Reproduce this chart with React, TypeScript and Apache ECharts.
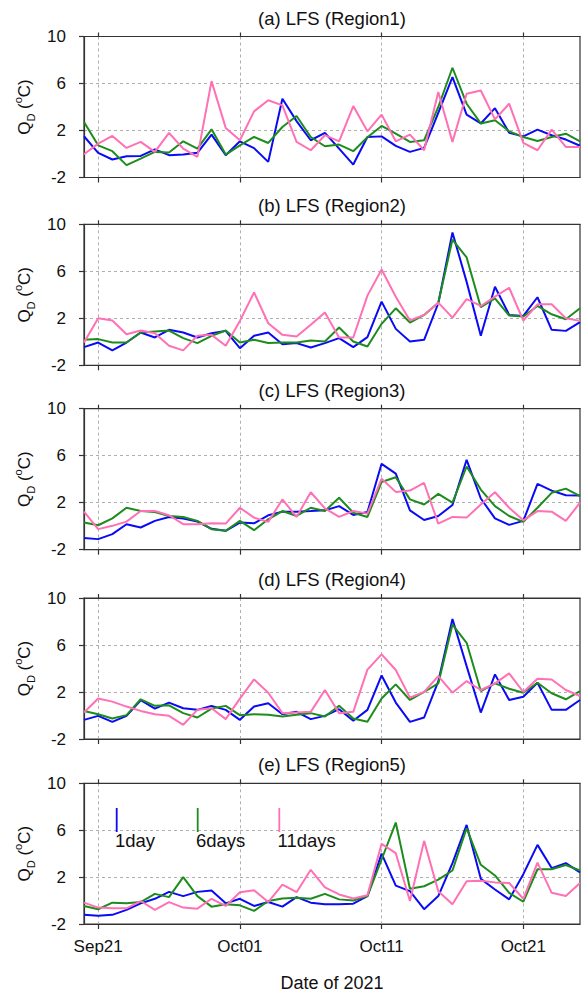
import React, { useEffect, useRef } from "react";
import * as echarts from "echarts";

const dates = [
  "Sep20", "Sep21", "Sep22", "Sep23", "Sep24", "Sep25", "Sep26", "Sep27", "Sep28", "Sep29", "Sep30",
  "Oct01", "Oct02", "Oct03", "Oct04", "Oct05", "Oct06", "Oct07", "Oct08", "Oct09", "Oct10",
  "Oct11", "Oct12", "Oct13", "Oct14", "Oct15", "Oct16", "Oct17", "Oct18", "Oct19", "Oct20",
  "Oct21", "Oct22", "Oct23", "Oct24", "Oct25",
];

const panelTitles = [
  "(a) LFS (Region1)",
  "(b) LFS (Region2)",
  "(c) LFS (Region3)",
  "(d) LFS (Region4)",
  "(e) LFS (Region5)",
];

const seriesNames = ["1day", "6days", "11days"];
const yTicks = [-2, 2, 6, 10];

const r1Day1 = [1.51, 0.1, -0.47, -0.19, -0.16, 0.4, -0.1, -0.05, 0.1, 1.65, -0.1, 1.08, 0.5, -0.67, 4.7, 2.8, 1.17, 1.8, 0.46, -0.9, 1.45, 1.5, 0.69, 0.18, 0.52, 3.5, 6.55, 3.35, 2.6, 3.9, 1.8, 1.5, 2.07, 1.6, 1.23, 0.7];
const r1Day6 = [2.73, 0.74, 0.24, -0.95, -0.39, 0.18, 0.12, 1.08, 0.46, 2.1, -0.05, 0.74, 1.45, 0.94, 2.3, 3.23, 1.45, 0.66, 0.8, 0.24, 1.42, 2.39, 1.73, 1.03, 1.17, 4.0, 7.34, 4.28, 2.6, 2.87, 1.93, 1.45, 1.1, 1.45, 1.73, 1.08];
const r1Day11 = [-0.02, 0.88, 1.54, 0.52, 1.03, 0.18, 1.79, 0.46, -0.25, 6.2, 2.22, 1.17, 3.63, 4.57, 4.14, 1.03, 0.32, 1.6, 1.08, 4.08, 1.93, 3.35, 1.08, 1.65, 0.32, 5.27, 1.03, 5.13, 5.4, 2.95, 4.28, 0.94, 0.32, 2.07, 0.6, 0.6];

const r2Day1 = [-0.45, -0.06, -0.73, -0.06, 0.79, 0.37, 1.02, 0.79, 0.37, 0.73, 0.93, -0.54, 0.51, 0.79, -0.2, -0.11, -0.48, -0.11, 0.31, -0.45, 0.4, 3.42, 1.1, 0.03, 0.17, 3.28, 9.3, 5.1, 0.51, 4.69, 2.29, 2.2, 3.79, 1.02, 0.93, 1.67];
const r2Day6 = [0.17, 0.23, -0.06, -0.06, 0.79, 0.88, 0.96, 0.31, -0.11, 0.51, 0.96, -0.06, 0.17, -0.11, -0.06, -0.06, 0.11, 0.03, 1.21, 0.03, -0.4, 1.53, 2.85, 1.64, 2.29, 3.33, 8.7, 7.18, 2.94, 3.7, 2.23, 2.15, 3.05, 2.34, 1.92, 2.85];
const r2Day11 = [-0.06, 2.0, 1.81, 0.65, 0.96, 0.73, -0.34, -0.73, 0.51, 0.59, -0.34, 1.78, 4.2, 1.58, 0.59, 0.45, 1.45, 2.49, 0.37, 0.37, 3.93, 6.16, 3.84, 1.81, 2.29, 3.33, 2.06, 3.64, 3.05, 3.84, 4.6, 1.81, 3.19, 3.19, 2.0, 1.78];

const r3Day1 = [-1.0, -1.1, -0.67, 0.17, -0.11, 0.45, 0.79, 0.65, 0.4, -0.22, -0.39, 0.31, 0.25, 0.93, 1.24, 1.24, 1.29, 1.35, 1.71, 0.96, 1.21, 5.31, 4.47, 1.35, 0.53, 0.87, 1.8, 5.65, 2.36, 0.67, 0.11, 0.45, 3.6, 3.03, 2.64, 2.61];
const r3Day6 = [0.31, 0.08, 0.67, 1.57, 1.29, 1.21, 0.87, 0.79, 0.45, -0.25, -0.39, 0.45, -0.34, 0.59, 1.29, 0.87, 1.57, 1.29, 2.42, 1.15, 0.79, 3.76, 4.16, 2.28, 1.85, 2.75, 2.0, 5.08, 3.12, 1.71, 0.87, 0.37, 1.57, 2.84, 3.2, 2.56];
const r3Day11 = [1.24, -0.25, 0.03, 0.39, 1.29, 1.29, 0.93, 0.17, 0.17, 0.25, 0.22, 1.57, 0.73, 0.37, 2.28, 0.79, 2.89, 1.52, 0.79, 1.29, 1.07, 4.04, 2.92, 3.03, 3.68, 0.22, 0.79, 0.73, 1.85, 2.89, 1.57, 0.5, 1.29, 1.24, 0.45, 2.0];

const r4Day1 = [-0.37, -0.03, -0.54, -0.03, 1.3, 0.59, 1.1, 0.62, 0.48, 0.82, 0.48, -0.37, 0.76, 1.04, 0.11, 0.31, -0.31, -0.03, 0.54, -0.45, 0.48, 3.41, 1.1, -0.54, -0.17, 2.9, 8.22, 4.2, 0.25, 3.5, 1.32, 1.6, 2.79, 0.48, 0.48, 1.32];
const r4Day6 = [0.39, 0.11, -0.25, 0.03, 1.38, 0.82, 0.87, 0.2, -0.17, 0.59, 0.82, 0.03, 0.11, 0.06, -0.08, 0.06, 0.2, -0.08, 0.82, -0.25, -0.54, 1.44, 2.65, 1.32, 2.0, 2.73, 7.74, 6.19, 2.08, 2.73, 2.28, 1.94, 2.79, 1.89, 1.38, 2.08];
const r4Day11 = [0.25, 1.44, 1.18, 0.76, 0.39, 0.11, -0.03, -0.79, 0.48, 0.62, -0.31, 1.44, 3.07, 1.94, 0.2, 0.25, 0.31, 2.17, 0.2, 0.31, 3.9, 5.2, 3.87, 1.52, 2.0, 3.35, 1.94, 2.93, 2.17, 2.73, 3.58, 2.0, 3.13, 3.07, 2.17, 1.66];

const r5Day1 = [-1.22, -1.3, -1.22, -0.8, -0.24, 0.15, 0.74, 0.38, 0.74, 0.85, -0.24, 0.15, -0.46, -0.13, -0.52, 0.29, -0.18, -0.32, -0.32, -0.27, 0.38, 4.0, 1.27, 0.8, -0.74, 0.38, 3.2, 6.45, 1.85, 0.94, 0.1, 2.25, 4.75, 2.77, 3.19, 2.4];
const r5Day6 = [-0.46, -0.74, -0.18, -0.24, -0.13, 0.57, 0.29, 2.0, 0.38, -0.52, -0.32, -0.41, -0.88, -0.04, 0.18, 0.24, 0.15, 0.57, 0.1, 0.01, 0.38, 3.5, 6.65, 1.0, 1.22, 1.78, 2.56, 6.17, 3.05, 2.14, 0.66, -0.1, 2.67, 2.67, 3.03, 2.56];
const r5Day11 = [-0.18, -0.6, -0.66, -0.66, -0.04, -0.8, -0.13, -0.6, -0.69, 0.15, -0.46, 0.71, 0.88, -0.13, 1.36, 0.71, 2.62, 1.13, 0.52, 0.18, 0.46, 4.84, 4.04, -0.04, 5.09, 0.8, -0.32, 1.64, 1.69, 1.55, 1.5, 0.15, 3.23, 0.66, 0.38, 1.5];

const panels = [
  [r1Day1, r1Day6, r1Day11],
  [r2Day1, r2Day6, r2Day11],
  [r3Day1, r3Day6, r3Day11],
  [r4Day1, r4Day6, r4Day11],
  [r5Day1, r5Day6, r5Day11],
];

const COLORS = ["#0a0af5", "#1d8c1d", "#ff70b4"];
const FONT = '"Liberation Sans", Arial, Helvetica, sans-serif';
const TOPS = [36.5, 224.3, 408.7, 598, 783.3];
const LEFT = 84;
const WIDTH = 496;
const HEIGHT = 141;
const AXIS_COLOR = "#333";

const tickFn = (index: number) => (index - 1) % 10 === 0;

export default function App() {
  const ref = useRef<HTMLDivElement>(null);

  useEffect(() => {
    if (!ref.current) return;
    const chart = echarts.init(ref.current, undefined, { renderer: "svg" });

    const grid = TOPS.map((t) => ({
      left: LEFT,
      top: t,
      width: WIDTH,
      height: HEIGHT,
      show: true,
      borderColor: AXIS_COLOR,
      borderWidth: 1.2,
      backgroundColor: "transparent",
    }));

    const splitStyle = { type: [3, 3] as any, color: "#9a9a9a", width: 0.8 };

    const bottomAxes = TOPS.map((_, i) => ({
      type: "category",
      gridIndex: i,
      position: "bottom",
      data: dates,
      boundaryGap: false,
      axisLine: { show: true, onZero: false, lineStyle: { color: AXIS_COLOR, width: 1.2 } },
      axisTick: { show: true, inside: false, length: 5, interval: tickFn, lineStyle: { color: AXIS_COLOR, width: 1.2 } },
      axisLabel: {
        show: i === 4,
        interval: tickFn,
        color: "#111",
        fontSize: 17,
        fontFamily: FONT,
        margin: 14,
      },
      splitLine: { show: true, interval: tickFn, lineStyle: splitStyle },
      name: i === 4 ? "Date of 2021" : "",
      nameLocation: "middle",
      nameGap: 50,
      nameTextStyle: { fontSize: 18, color: "#111", fontFamily: FONT },
    }));

    const topAxes = TOPS.map((_, i) => ({
      type: "category",
      gridIndex: i,
      position: "top",
      data: dates,
      boundaryGap: false,
      axisLine: { show: true, onZero: false, lineStyle: { color: AXIS_COLOR, width: 1.2 } },
      axisTick: { show: true, inside: false, length: 4, interval: tickFn, lineStyle: { color: AXIS_COLOR, width: 1.2 } },
      axisLabel: { show: false },
      splitLine: { show: false },
    }));

    const yAxes = TOPS.map((_, i) => ({
      type: "value",
      gridIndex: i,
      min: yTicks[0],
      max: yTicks[yTicks.length - 1],
      interval: yTicks[1] - yTicks[0],
      axisLine: { show: true, onZero: false, lineStyle: { color: AXIS_COLOR, width: 1.2 } },
      axisTick: { show: true, inside: false, length: 5, lineStyle: { color: AXIS_COLOR, width: 1.2 } },
      axisLabel: { color: "#111", fontSize: 17, fontFamily: FONT, margin: 18 },
      splitLine: { show: true, lineStyle: splitStyle },
      name: "{a|Q}{b|D}{a| (}{c|o}{a|C)}",
      nameLocation: "middle",
      nameRotate: 90,
      nameGap: 46,
      nameTextStyle: {
        color: "#111",
        fontFamily: FONT,
        rich: {
          a: { fontSize: 17, lineHeight: 24, verticalAlign: "middle", fontFamily: FONT, color: "#111" },
          b: { fontSize: 11, lineHeight: 11, verticalAlign: "bottom", fontFamily: FONT, color: "#111" },
          c: { fontSize: 11, lineHeight: 11, verticalAlign: "top", fontFamily: FONT, color: "#111" },
        },
      },
    }));

    const series: any[] = [];
    panels.forEach((sets, p) => {
      sets.forEach((data, k) => {
        series.push({
          type: "line",
          name: seriesNames[k],
          xAxisIndex: p,
          yAxisIndex: p,
          data,
          showSymbol: false,
          symbol: "none",
          silent: true,
          lineStyle: { color: COLORS[k], width: 2 },
          itemStyle: { color: COLORS[k] },
          z: 3 + k,
        });
      });
    });

    const titles = panelTitles.map((t, i) => ({
      text: t,
      left: LEFT + WIDTH / 2,
      top: TOPS[i] - 28,
      textAlign: "center",
      padding: 0,
      textStyle: { fontSize: 18.5, fontWeight: "normal", color: "#111", fontFamily: FONT },
    }));

    const legendX = [116.7, 197.7, 279.3];
    const legendElems: any[] = [];
    seriesNames.forEach((n, k) => {
      legendElems.push({
        type: "line",
        shape: { x1: legendX[k], y1: 808, x2: legendX[k], y2: 832 },
        style: { stroke: COLORS[k], lineWidth: 1.8 },
        z: 10,
      });
      legendElems.push({
        type: "text",
        x: legendX[k] - 1.8,
        y: 840,
        style: {
          text: n,
          font: `18.5px ${FONT}`,
          fill: "#111",
          textAlign: "left",
          textVerticalAlign: "middle",
        },
        z: 10,
      });
    });

    chart.setOption({
      animation: false,
      backgroundColor: "#fff",
      title: titles,
      grid,
      xAxis: [...bottomAxes, ...topAxes],
      yAxis: yAxes,
      series,
      graphic: legendElems,
    } as any);

    return () => chart.dispose();
  }, []);

  return (
    <div
      ref={ref}
      style={{ position: "absolute", left: 0, top: 0, width: 581, height: 993 }}
    />
  );
}
